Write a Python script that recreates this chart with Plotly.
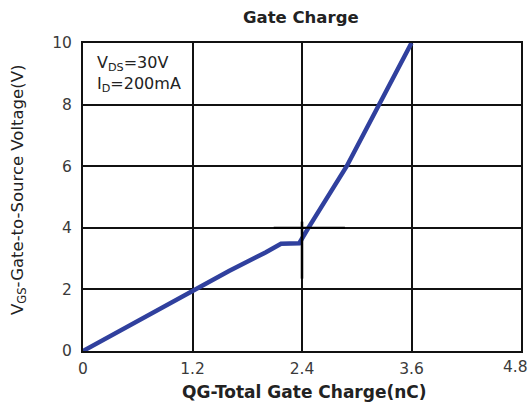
import plotly.graph_objects as go

qg = [0, 0.6, 1.2, 1.6, 2.0, 2.17, 2.37, 2.42, 2.47, 2.89, 3.24, 3.6]
vgs = [0, 0.98, 1.95, 2.6, 3.2, 3.48, 3.5, 3.75, 4.0, 6.0, 8.0, 10]
xticks = [0, 1.2, 2.4, 3.6, 4.8]
xticklabels = ["0", "1.2", "2.4", "3.6", "4.8"]
yticks = [0, 2, 4, 6, 8, 10]
cross_x = [2.09, 2.87]
cross_y = 4

FONT = "DejaVu Sans"
W, H = 531, 408
ML, MR, MT, MB = 83, 10, 43, 57
PW, PH = W - ML - MR, H - MT - MB


def px(xp):
    return (xp - ML) / PW


def py(yp):
    return 1 - (yp - MT) / PH


# last x tick label is drawn shifted left (as in the reference) so it stays inside the page
shown_ticktext = xticklabels[:-1] + [""]

fig = go.Figure()
fig.add_trace(go.Scatter(x=qg, y=vgs, mode="lines",
                         line=dict(color="#30409e", width=4.5), showlegend=False))
fig.add_shape(type="line", x0=cross_x[0], x1=cross_x[1], y0=cross_y, y1=cross_y,
              xref="x", yref="y", line=dict(color="black", width=2))
fig.add_shape(type="line", x0=2.4, x1=2.4, y0=2.35, y1=4.2,
              xref="x", yref="y", line=dict(color="black", width=2.5))

tickfont = dict(family=FONT, size=15.5, color="#3a3a3a")

fig.update_layout(
    width=W, height=H,
    margin=dict(l=ML, r=MR, t=MT, b=MB),
    plot_bgcolor="white", paper_bgcolor="white",
    font=dict(family=FONT, color="#222"),
    xaxis=dict(range=[0, 4.8], tickvals=xticks, ticktext=shown_ticktext,
               showgrid=True, gridcolor="#111", gridwidth=1.5,
               showline=True, linecolor="#111", linewidth=2, mirror=True,
               zeroline=False, ticks="", automargin=False, ticklabelstandoff=2,
               tickfont=tickfont),
    yaxis=dict(range=[0, 10], tickvals=yticks,
               showgrid=True, gridcolor="#111", gridwidth=1.5,
               showline=True, linecolor="#111", linewidth=2, mirror=True,
               zeroline=False, ticks="", automargin=False, ticklabelstandoff=6,
               tickfont=tickfont),
    annotations=[
        dict(text="<b>Gate Charge</b>", x=px(301), y=py(18), xref="paper", yref="paper",
             xanchor="center", yanchor="middle", showarrow=False,
             font=dict(family=FONT, size=16.5, color="#222")),
        dict(text="<b>QG-Total Gate Charge(nC)</b>", x=px(304), y=py(392), xref="paper", yref="paper",
             xanchor="center", yanchor="middle", showarrow=False,
             font=dict(family=FONT, size=17, color="#222")),
        dict(text="V<sub>GS</sub>-Gate-to-Source Voltage(V)", x=px(18), y=py(190), xref="paper", yref="paper",
             xanchor="center", yanchor="middle", showarrow=False, textangle=-90,
             font=dict(family=FONT, size=16.5, color="#222")),
        dict(text="V<sub>DS</sub>=30V<br>I<sub>D</sub>=200mA", x=px(95), y=py(51), xref="paper", yref="paper",
             xanchor="left", yanchor="top", align="left", showarrow=False,
             font=dict(family=FONT, size=16, color="#222")),
        dict(text=xticklabels[-1], x=px(530), y=py(367), xref="paper", yref="paper",
             xanchor="right", yanchor="middle", showarrow=False, font=tickfont),
    ]
)
fig.write_html("out.html", config={"displayModeBar": False},
               post_script="document.body.style.margin='0';document.body.style.overflow='hidden';")
